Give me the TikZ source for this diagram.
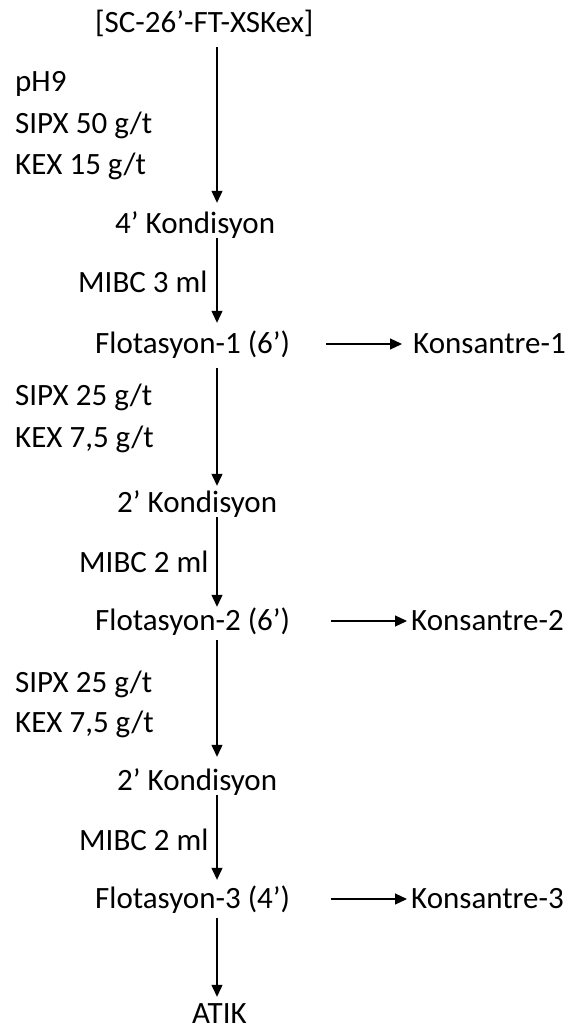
\documentclass[tikz,border=0pt]{standalone}
\usepackage{fontspec}
\setmainfont{Carlito}
\usetikzlibrary{arrows.meta}

\begin{document}
\begin{tikzpicture}[
  x=1pt, y=-1pt,
  stage/.style={inner sep=0pt, anchor=base west, text height=23pt, text depth=5pt,
                font=\fontsize{31}{37}\selectfont},
  dose/.style={stage},
  arr/.style={-{Triangle[length=12pt,width=11pt]}, line width=1.2pt},
]
\useasboundingbox (0,0) rectangle (576,1030);
\coordinate (col) at (217,0);

% Main column
\node[stage] (feed) at (95,33) {[SC-26’-FT-XSKex]};
\node[stage] (k1) at (115,233) {4’ Kondisyon};
\node[stage] (f1) at (95,353) {Flotasyon-1 (6’)};
\node[stage] (k2) at (117,512) {2’ Kondisyon};
\node[stage] (f2) at (95,630) {Flotasyon-2 (6’)};
\node[stage] (k3) at (117,790) {2’ Kondisyon};
\node[stage] (f3) at (95,908) {Flotasyon-3 (4’)};
\node[stage, text depth=0pt] (waste) at (192,1023) {ATIK};

% Concentrates on the right
\node[stage] (c1) at (413,353) {Konsantre-1};
\node[stage] (c2) at (411,630) {Konsantre-2};
\node[stage] (c3) at (411,908) {Konsantre-3};

% Reagents on the left
\node[dose] (ph) at (15,92) {pH9};
\node[dose] (sipx1) at (15,133) {SIPX 50 g/t};
\node[dose] (kex1) at (15,174) {KEX 15 g/t};
\node[dose] (mibc1) at (78,292) {MIBC 3 ml};
\node[dose] (sipx2) at (15,405) {SIPX 25 g/t};
\node[dose] (kex2) at (15,447) {KEX 7,5 g/t};
\node[dose] (mibc2) at (79,572) {MIBC 2 ml};
\node[dose] (sipx3) at (15,692) {SIPX 25 g/t};
\node[dose] (kex3) at (15,732) {KEX 7,5 g/t};
\node[dose] (mibc3) at (79,850) {MIBC 2 ml};

% Main flow
\draw[arr, shorten <=9pt, shorten >=7pt] (feed.south -| col) -- (k1.north -| col);
\draw[arr, shorten >=7pt] (k1.south -| col) -- (f1.north -| col);
\draw[arr, shorten <=10pt, shorten >=3pt] (f1.south -| col) -- (k2.north -| col);
\draw[arr] (k2.south -| col) -- (f2.north -| col);
\draw[arr, shorten <=5pt, shorten >=10pt] (f2.south -| col) -- (k3.north -| col);
\draw[arr, shorten >=5pt] (k3.south -| col) -- (f3.north -| col);
\draw[arr, shorten <=5pt, shorten >=3pt] (f3.south -| col) -- (waste.north -| col);

% Concentrate arrows
\draw[arr, shorten <=36pt, shorten >=11pt] (f1.east) -- (c1.west);
\draw[arr, shorten <=41pt, shorten >=4pt] (f2.east) -- (c2.west);
\draw[arr, shorten <=41pt, shorten >=4pt] (f3.east) -- (c3.west);

\end{tikzpicture}
\end{document}
